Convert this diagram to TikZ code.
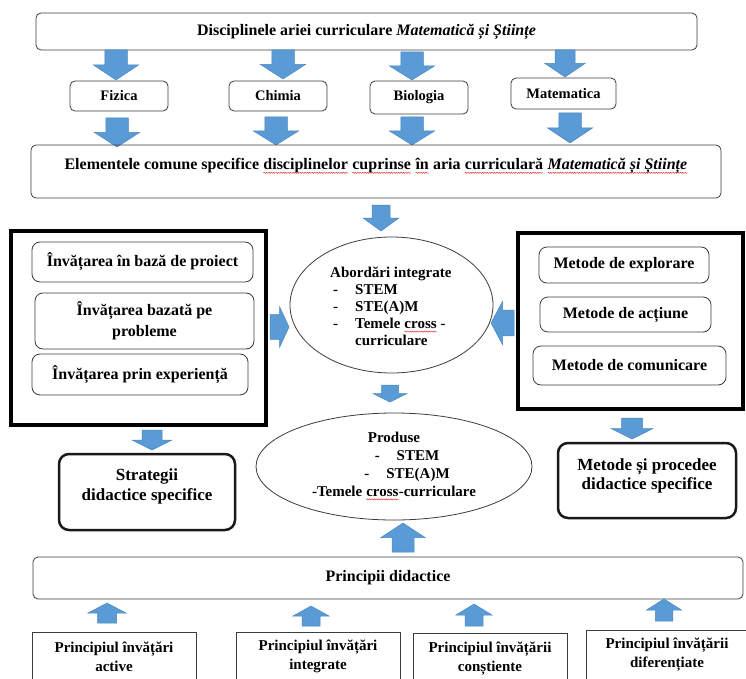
\documentclass[tikz,border=0pt]{standalone}
\usepackage{fontspec}
\setmainfont{Liberation Serif}
\usetikzlibrary{shapes.geometric, decorations.pathmorphing}

\definecolor{arrowfill}{HTML}{5B9BD5}
\definecolor{arrowline}{HTML}{4A87C2}
\definecolor{frame}{HTML}{3C3C3C}
\definecolor{spell}{HTML}{E23B3B}

% red wavy underline, as a spell checker marks words
\newcommand{\spellwave}[1]{\tikz[baseline=(marked.base)]{%
  \node[inner sep=0pt, outer sep=0pt, anchor=base] (marked) {#1};
  \draw[spell, line width=0.5pt, decorate, decoration={snake, amplitude=0.6pt, segment length=2.4pt}]
    ([yshift=-3.2pt]marked.base west) -- ([yshift=-3.2pt]marked.base east);}}

% vertical block arrow: x, tail y, tip y, head width
\newcommand{\blkv}[4]{%
  \filldraw[blockarrow] ({#1-0.25*#4},#2) -- ({#1+0.25*#4},#2) -- ({#1+0.25*#4},{(#2+#3)/2})
    -- ({#1+0.5*#4},{(#2+#3)/2}) -- (#1,#3) -- ({#1-0.5*#4},{(#2+#3)/2})
    -- ({#1-0.25*#4},{(#2+#3)/2}) -- cycle;}
% horizontal block arrow: y, tail x, tip x, head width
\newcommand{\blkh}[4]{%
  \filldraw[blockarrow] (#2,{#1-0.3*#4}) -- ({(#2+#3)/2},{#1-0.3*#4}) -- ({(#2+#3)/2},{#1-0.5*#4})
    -- (#3,#1) -- ({(#2+#3)/2},{#1+0.5*#4}) -- ({(#2+#3)/2},{#1+0.3*#4})
    -- (#2,{#1+0.3*#4}) -- cycle;}

\tikzset{
  blockarrow/.style={fill=arrowfill, draw=arrowline, line width=0.5pt, line join=miter},
  box/.style={draw=frame, line width=0.8pt, rounded corners=5pt, inner sep=0pt, align=center,
    font=\fontsize{16}{19}\selectfont\bfseries},
  subj/.style={box, font=\fontsize{14.5}{17}\selectfont\bfseries},
  itembox/.style={box, rounded corners=8pt, font=\fontsize{16}{21}\selectfont\bfseries},
  heavyframe/.style={draw=black, line width=4pt, inner sep=0pt},
  outbox/.style={draw=black!90, line width=2.5pt, rounded corners=10pt, inner sep=0pt},
  outtext/.style={align=center, inner sep=0pt, font=\fontsize{17}{19.5}\selectfont\bfseries},
  oval/.style={ellipse, draw=frame, line width=0.8pt, inner sep=0pt},
  ovaltext/.style={inner sep=0pt, font=\fontsize{15}{17}\selectfont\bfseries},
  plainbox/.style={draw=frame, line width=0.8pt, inner sep=0pt},
  princtext/.style={align=center, inner sep=0pt, font=\fontsize{15}{19}\selectfont\bfseries},
}

\begin{document}
\begin{tikzpicture}[x=1pt, y=-1pt]
\clip (0,0) rectangle (746,679);
\fill[white] (0,0) rectangle (746,679);

% --- disciplines of the curricular area
\node[box, minimum width=661pt, minimum height=37pt] (top) at (366.5,31.5)
  {Disciplinele ariei curriculare \textit{Matematică și Științe}};

\node[subj, minimum width=98pt, minimum height=30pt] (fiz) at (119,96) {Fizica};
\node[subj, minimum width=98pt, minimum height=30pt] (chim) at (278,96) {Chimia};
\node[subj, minimum width=98pt, minimum height=33pt] (bio) at (419,97.5) {Biologia};
\node[subj, minimum width=105pt, minimum height=31pt] (mat) at (563.5,93.5) {Matematica};

\blkv{116}{50}{80}{45}
\blkv{283}{50}{79}{45}
\blkv{412}{52}{80}{45}
\blkv{565}{50}{77}{40}

\blkv{117}{118}{147}{45}
\blkv{276}{117}{145}{45}
\blkv{412}{117}{145}{45}
\blkv{570}{113}{143}{45}

\node[box, minimum width=690pt, minimum height=53pt] (elem) at (376,171.5) {};
\node[inner sep=0pt, font=\fontsize{16}{19}\selectfont\bfseries] (elemtext) at (376,166)
  {Elementele comune specifice \spellwave{disciplinelor} \spellwave{cuprinse} \spellwave{în} aria
   \spellwave{curriculară} \spellwave{\textit{Matematică și Științe}}};

\blkv{381}{205}{231}{36}

% --- integrated approaches
\node[oval, minimum width=203pt, minimum height=136pt] (abord) at (391.5,305) {};
\node[ovaltext, anchor=west] (abordtext) at (330,308)
  {\begin{tabular}{@{\hspace{3pt}}l@{\hspace{17pt}}l@{}}
   \multicolumn{2}{@{}l@{}}{Abordări integrate}\\
   - & STEM\\
   - & STE(A)M\\
   - & Temele \spellwave{cross} -\\
     & curriculare
   \end{tabular}};

% --- learning strategies
\node[heavyframe, minimum width=255pt, minimum height=194pt] (strategies) at (138.5,328) {};
\node[itembox, minimum width=221pt, minimum height=40pt] (proj) at (142.5,262) {Învățarea în bază de proiect};
\node[itembox, minimum width=219pt, minimum height=56pt] (probl) at (144.5,321) {Învățarea bazată pe\\probleme};
\node[itembox, minimum width=216pt, minimum height=41pt] (exper) at (140,374.5) {Învățarea prin experiență};

% --- methods
\node[heavyframe, minimum width=225pt, minimum height=176pt] (methods) at (630.5,321) {};
\node[itembox, minimum width=170pt, minimum height=36pt] (explor) at (624,265) {Metode de explorare};
\node[itembox, minimum width=171pt, minimum height=35pt] (actiune) at (625.5,314.5) {Metode de acțiune};
\node[itembox, minimum width=193pt, minimum height=39pt] (comunic) at (629.5,365.5) {Metode de comunicare};

\blkh{327}{270}{289}{41}
\blkh{323}{514}{491}{43}

% --- products
\blkv{390}{385}{402}{34}
\node[oval, minimum width=276pt, minimum height=107pt] (prod) at (394,466.5) {};
\node[ovaltext, align=center, font=\fontsize{15}{18}\selectfont\bfseries] (prodtext) at (394,466)
  {Produse\\
   \hspace*{26pt}-\hspace{17pt}STEM\\
   \hspace*{26pt}-\hspace{17pt}STE(A)M\\
   -Temele \spellwave{cross}-curriculare};

% --- specific outcomes
\blkv{152}{430}{450}{40}
\node[outbox, minimum width=176pt, minimum height=76pt] (strat) at (147,492) {};
\node[outtext] (strattext) at (147,486.5) {Strategii\\didactice specifice};

\blkv{632}{418}{439}{42}
\node[outbox, minimum width=178pt, minimum height=75pt] (proced) at (647,480.5) {};
\node[outtext] (procedtext) at (647,476) {Metode și procedee\\didactice specifice};

% --- didactic principles
\blkv{403}{552}{523}{44}
\node[box, minimum width=710pt, minimum height=42pt] (princ) at (388,578) {Principii didactice};

\blkv{107}{623}{603}{38}
\blkv{311}{626}{606}{36}
\blkv{474}{626}{604}{36}
\blkv{664}{621}{599}{35}

\node[plainbox, minimum width=164pt, minimum height=70pt, anchor=north] (pactive) at (114,632) {};
\node[princtext] at (114,656.5) {Principiul învățări\\active};
\node[plainbox, minimum width=164pt, minimum height=70pt, anchor=north] (pintegr) at (318,632) {};
\node[princtext] at (318,656.5) {Principiul învățări\\integrate};
\node[plainbox, minimum width=154pt, minimum height=70pt, anchor=north] (pconst) at (490,633) {};
\node[princtext] at (490,658.5) {Principiul învățării\\conștiente};
\node[plainbox, minimum width=166pt, minimum height=70pt, anchor=north] (pdifer) at (669,630) {};
\node[princtext] at (667,654.5) {Principiul învățării\\diferențiate};
\end{tikzpicture}
\end{document}
